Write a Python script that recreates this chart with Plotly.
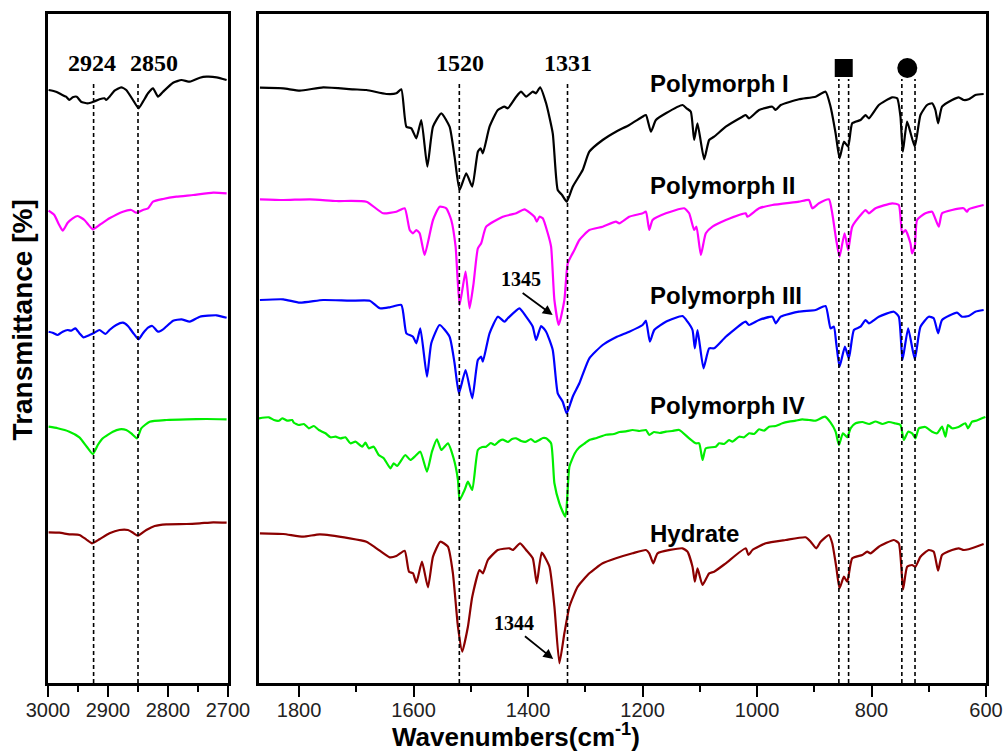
import plotly.graph_objects as go

# ---------------- data (wavenumber cm-1, transmittance in stacked arbitrary units) ----------------
# C-H stretching region (3000-2700)
I_ch = [(2999, 593), (2986.7, 591.3), (2978.3, 588.7), (2970, 586.3), (2964.4, 583), (2958.8, 585.7),
        (2952.1, 586.3), (2944.9, 581.3), (2933.7, 579.7), (2924.2, 581.3), (2914.2, 583.7), (2905.8, 584.7),
        (2903, 583), (2897.5, 586.3), (2889.1, 592.3), (2878, 595.7), (2869.6, 593), (2858.4, 583),
        (2849, 574.7), (2841.7, 581.3), (2833.3, 589.7), (2825, 594.7), (2816.6, 586.3), (2808.2, 591.3),
        (2791.5, 600.3), (2777.5, 603), (2763.6, 601.3), (2746.9, 605.3), (2735.7, 606.3), (2719, 605.7),
        (2702.3, 603)]
II_ch = [(2999, 472.3), (2989.5, 468), (2982.2, 459), (2975.5, 452.3), (2967.2, 460.3), (2958.8, 464.7),
         (2950.4, 467), (2939.3, 463), (2933.7, 459), (2925.3, 453.7), (2914.2, 458), (2897.5, 464.7),
         (2875.2, 471.3), (2861.2, 473), (2852.8, 470.3), (2841.7, 473), (2833.3, 474.7), (2825, 481.3),
         (2808.2, 484), (2785.9, 486.3), (2758, 488), (2724.6, 490.3), (2702.3, 489.7)]
III_ch = [(2999, 351.3), (2992.3, 350.3), (2983.9, 348), (2975.5, 351.3), (2967.2, 353), (2961.6, 352.3),
          (2954.3, 354.7), (2947.7, 349.7), (2941, 345.7), (2930.9, 348), (2922.6, 350.3), (2914.2, 353),
          (2904.2, 349), (2897.5, 353), (2886.3, 358), (2875.2, 360.3), (2866.8, 357), (2858.4, 350.3),
          (2849, 343.7), (2841.7, 349.7), (2833.3, 355.3), (2826.1, 357), (2816.6, 351.3), (2808.2, 353.7),
          (2791.5, 362.3), (2777.5, 363.7), (2763.6, 361.3), (2746.9, 366.3), (2719, 367.7), (2702.3, 365.3)]
IV_ch = [(2999, 256.3), (2983.9, 254.7), (2964.4, 251.3), (2947.7, 245.7), (2935.4, 236.3), (2925.3, 229),
         (2917, 238), (2908.6, 244.7), (2891.9, 251.3), (2880.7, 253.7), (2869.6, 253), (2861.2, 249.7),
         (2851.7, 244.7), (2844.5, 254.7), (2830.5, 261.3), (2802.7, 263), (2769.2, 263.7), (2735.7, 264),
         (2702.3, 263.7)]
H_ch = [(2999, 150.7), (2981.1, 150.3), (2964.4, 148.7), (2947.7, 148), (2936.5, 143.7), (2926.5, 139.7),
        (2914.2, 143.7), (2897.5, 149.7), (2880.7, 153), (2866.8, 153), (2858.4, 150.3), (2850.1, 147.3),
        (2836.1, 153), (2822.2, 157), (2802.7, 158.7), (2769.2, 159), (2746.9, 159.7), (2724.6, 160.7),
        (2702.3, 160.3)]

# Fingerprint region (1870-600)
I_fp = [(1868.3, 595.3), (1827.6, 594.7), (1798.5, 592.3), (1757.8, 595.7), (1705.5, 593.7), (1682.3, 593),
        (1647.4, 589), (1630, 589.7), (1621.3, 593.7), (1612.5, 556.3), (1603.8, 554.7), (1595.1, 544.7),
        (1586.4, 563), (1575.9, 516.3), (1566, 556.3), (1551.5, 569.7), (1537, 556.3), (1528.3, 526.3),
        (1519.5, 493), (1507.9, 509.7), (1497.4, 496.3), (1487.6, 531.3), (1482.9, 534.7), (1478.9, 529.7),
        (1467.2, 556.3), (1452.7, 573), (1441.1, 576.3), (1435.3, 574.7), (1420.7, 586.3), (1412, 591.3),
        (1403.3, 586.3), (1391.7, 591.3), (1385.9, 589.7), (1378.9, 595.7), (1368.4, 579.7), (1356.8, 549.7),
        (1348.1, 493), (1340.5, 488), (1332.4, 481.3), (1321.9, 496.3), (1304.5, 513), (1292.9, 531.3),
        (1269.6, 543), (1246.4, 551.3), (1223.1, 558), (1199.9, 566.3), (1194, 568), (1185.3, 551.3),
        (1176.6, 563), (1159.2, 569.7), (1130.1, 578), (1123.1, 574.7), (1115.6, 571.3), (1109.8, 543),
        (1104, 559.7), (1092.3, 523.7), (1083.6, 543), (1074.9, 546.3), (1054.5, 556.3), (1025.5, 566.3),
        (1019.7, 568), (1013.9, 564.7), (996.4, 573), (973.2, 576.3), (967.4, 573), (958.6, 578),
        (926.7, 583.7), (897.6, 586.3), (880.2, 591.3), (871.5, 576.3), (862.7, 549.7), (855.8, 524.7),
        (848.2, 541.3), (840.7, 536.3), (833.7, 559.7), (819.2, 563), (810.4, 568), (804.6, 564.7),
        (787.2, 578), (763.9, 585.7), (755.2, 584.7), (749.4, 566.3), (745.3, 531.3), (737.8, 561.3),
        (724.4, 536.3), (714.5, 568), (702.9, 578), (694.2, 579.7), (688.4, 573), (683.7, 559.7),
        (676.8, 576.3), (659.3, 583), (647.7, 585.7), (639, 583), (630.3, 583.7), (618.6, 588), (604.1, 589)]
II_fp = [(1868.3, 483.7), (1827.6, 483), (1781.1, 483.7), (1734.6, 482), (1682.3, 481.3), (1653.2, 469.7),
         (1630, 471.3), (1615.4, 474.7), (1606.7, 453), (1600.9, 449.7), (1595.1, 453), (1589.3, 449.7),
         (1580.6, 428), (1566, 463), (1554.4, 476.3), (1542.8, 474.7), (1534.1, 463), (1526.5, 436.3),
         (1519.5, 378), (1509.1, 411.3), (1502.1, 374.7), (1495.1, 399.7), (1487.6, 434.7), (1481.8, 439.7),
         (1473.1, 456.3), (1444, 466.3), (1420.7, 469.7), (1406.2, 473.7), (1388.8, 466.3), (1384.7, 461.3),
         (1380.1, 466.3), (1374.2, 464.7), (1365.5, 449.7), (1359.7, 436.3), (1353.9, 383), (1346.3, 358),
         (1336.5, 383), (1330.6, 419.7), (1319, 433), (1310.3, 443), (1292.9, 453), (1269.6, 456.3),
         (1246.4, 461.3), (1240.6, 459.7), (1223.1, 466.3), (1199.9, 469.7), (1194, 471.3), (1188.2, 453),
         (1182.4, 463), (1159.2, 469.7), (1127.2, 474.7), (1118.5, 469.7), (1109.8, 453), (1105.7, 456.3),
         (1098.1, 428), (1089.4, 449.7), (1077.8, 456.3), (1054.5, 463), (1019.7, 469.7), (1016.8, 466.3),
         (996.4, 474.7), (973.2, 478), (926.7, 481.3), (909.3, 483), (903.4, 474.7), (891.8, 479.7),
         (874.4, 483.7), (868.6, 469.7), (861.6, 443), (855.8, 426.3), (847.1, 449.7), (840.7, 433),
         (833.7, 456.3), (816.3, 469.7), (810.4, 473), (804.6, 469.7), (793, 474.7), (763.9, 479.7),
         (752.3, 478), (746.5, 449.7), (740.7, 453), (732, 439.7), (729.1, 429.7), (724.4, 436.3),
         (720.4, 463), (705.8, 469.7), (694.2, 471.3), (682.6, 456.3), (676.8, 469.7), (659.3, 473),
         (639, 474.7), (633.2, 471.3), (630.3, 473.7), (604.1, 478)]
III_fp = [(1868.3, 383), (1827.6, 383.7), (1798.5, 380.3), (1757.8, 383), (1711.3, 382.3), (1676.5, 382.3),
          (1659, 374.7), (1641.6, 375.7), (1621.3, 378), (1612.5, 349.7), (1600.9, 346.3), (1595.1, 339.7),
          (1588.1, 354.7), (1576.5, 306.3), (1569, 339.7), (1554.4, 358), (1537, 346.3), (1528.3, 319.7),
          (1520.7, 289.7), (1509.1, 313), (1497.4, 284.7), (1487.6, 323), (1481.8, 326.3), (1478.9, 321.3),
          (1467.2, 349.7), (1452.7, 366.3), (1441.1, 361.3), (1435.3, 364.7), (1414.9, 374.7), (1403.3, 366.3),
          (1391.7, 356.3), (1385.9, 343), (1377.1, 357), (1368.4, 351.3), (1356.8, 333), (1348.1, 289.7),
          (1339.4, 281.3), (1332.4, 269.7), (1321.9, 286.3), (1310.3, 299.7), (1292.9, 324.7), (1269.6, 338),
          (1246.4, 345.7), (1223.1, 351.3), (1199.9, 358), (1194, 362.3), (1187.1, 341.3), (1179.5, 353),
          (1159.2, 361.3), (1130.1, 367), (1121.4, 361.3), (1112.7, 353), (1108.6, 334.7), (1103.9, 353),
          (1093.5, 314.7), (1083.6, 334.7), (1074.9, 334.7), (1054.5, 346.3), (1025.5, 359.7), (1019.7, 361.3),
          (1013.9, 358), (996.4, 363), (973.2, 366.3), (967.4, 359.7), (958.6, 366.3), (926.7, 371.3),
          (897.6, 373), (880.2, 377), (871.5, 354.7), (865.7, 356.3), (861.6, 339.7), (855.8, 316.3),
          (846.5, 336.3), (839.5, 324.7), (830.8, 353), (819.2, 356.3), (810.4, 363), (804.6, 359.7),
          (787.2, 366.3), (761, 371.3), (752.3, 366.3), (745.9, 323), (736, 354.7), (724.4, 323.7),
          (714.5, 356.3), (700, 366.3), (691.3, 364.7), (683.7, 349.7), (676.8, 363), (650.6, 370.3),
          (641.9, 366.3), (630.3, 367), (618.6, 371.3), (604.1, 373)]
IV_fp = [(1870, 264.7), (1852.6, 265.7), (1843.8, 263), (1835.1, 262.3), (1829.3, 264.7), (1820.6, 262.3),
         (1811.9, 263), (1809, 260.3), (1800.3, 258), (1791.5, 259), (1782.8, 254.7), (1774.1, 257),
         (1765.4, 253), (1753.8, 249.7), (1745, 245.7), (1736.3, 246.3), (1727.6, 244.7), (1718.9, 245.7),
         (1710.2, 239.7), (1701.4, 241.3), (1689.8, 236.3), (1684, 240.3), (1678.2, 234.7), (1669.5, 236.3),
         (1660.8, 228), (1652, 224.7), (1640.4, 214.7), (1634.6, 219.7), (1628.8, 217), (1614.3, 228),
         (1605.5, 223), (1596.8, 227), (1588.1, 231.3), (1576.5, 211.3), (1567.8, 231.3), (1559.1, 243.7),
         (1551.5, 233), (1539.9, 239.7), (1530, 224.7), (1522.4, 203), (1519.5, 183), (1510.8, 193),
         (1505, 201.3), (1497.4, 193), (1487.6, 233), (1480, 236), (1473.1, 236.3), (1465, 240), (1458, 238),
         (1450, 242), (1444, 243.3), (1435, 241), (1428, 244), (1420.7, 244.7), (1412, 242), (1403.3, 241.3),
         (1395, 244), (1388, 241), (1380.1, 243), (1374, 245), (1368.4, 244.7), (1359.7, 239.7),
         (1353.9, 199.7), (1345.2, 179.7), (1334.7, 166.3), (1327.7, 216.3), (1318, 230), (1310.3, 235.7),
         (1300, 240), (1292.9, 243), (1280, 245), (1263.8, 248.3), (1250, 249), (1240, 251), (1228.9, 251.7),
         (1217.3, 253), (1205, 252), (1194, 253), (1188.2, 248), (1180, 251), (1170, 250), (1159.2, 251.3),
         (1148, 252), (1135.9, 253), (1118.5, 244.7), (1106.9, 239.7), (1101, 239.7), (1095.2, 223),
         (1089.4, 234.7), (1071.9, 236.3), (1066.1, 239.7), (1057.4, 239), (1048.7, 243), (1042.9, 241.3),
         (1031.3, 246.3), (1022.5, 245.7), (1013.8, 249.7), (1005.1, 249), (996.4, 253.7), (987.7, 252.3),
         (979, 256.3), (967.3, 257), (955.7, 259.7), (944.1, 261.3), (932.5, 262.3), (921, 263.7),
         (909.2, 263), (897.6, 262.3), (881.3, 266.3), (871.4, 260.3), (862.7, 251.3), (856.9, 238),
         (849.9, 249.7), (842.4, 245.7), (836.6, 254.7), (827.8, 259.7), (816, 261), (804, 259),
         (793, 261.5), (781, 259), (770, 261), (758, 259.5), (749.4, 258), (743.6, 243), (736, 251.3),
         (729, 249.7), (723.2, 244.7), (717.4, 254.7), (706, 256), (694.2, 251.3), (685.4, 249.7),
         (676.7, 256.3), (670.9, 246.3), (666.3, 258), (659.3, 254.7), (648, 256), (636, 259.7),
         (631.4, 254.7), (624.4, 261.3), (616, 262.5), (607, 264.7), (601, 266)]
H_fp = [(1868.3, 149.7), (1827.6, 149), (1792.7, 146.3), (1763.6, 148.7), (1711.3, 144.7), (1682.3, 141.3),
        (1664.8, 134.7), (1641.6, 125.7), (1630, 127), (1615.4, 132.3), (1607.9, 111.3), (1600.9, 109.7),
        (1595.1, 100.3), (1585.2, 121.3), (1574.8, 95.7), (1566, 126.3), (1553.2, 141.3), (1539.9, 136.3),
        (1531.2, 109.7), (1522.4, 56.3), (1514.9, 31.3), (1505, 56.3), (1497.4, 86.3), (1484.7, 113),
        (1478.9, 109.7), (1470.1, 123), (1452.7, 133), (1432.4, 134.7), (1426.6, 133), (1413.8, 139.7),
        (1403.3, 133), (1391.7, 124.7), (1384.7, 99.7), (1376, 130.3), (1362.6, 116.3), (1353.9, 76.3),
        (1345.2, 19.7), (1336.5, 49.7), (1327.7, 76.3), (1313.2, 96.3), (1292.9, 109.7), (1269.6, 119.7),
        (1246.4, 124.7), (1217.3, 129.7), (1194.1, 133), (1188.2, 129.7), (1181.2, 119.7), (1173.7, 129.7),
        (1130.1, 134.7), (1121.4, 131.3), (1112.7, 116.3), (1108.6, 101.3), (1103.9, 114.7), (1095.2, 98),
        (1083.6, 109.7), (1074.9, 111.3), (1054.5, 119.7), (1019.7, 134.7), (1015, 128), (1008, 133),
        (984.8, 139.7), (950, 143), (915.1, 145.7), (906.3, 141.3), (896.5, 134.7), (888.9, 141.3),
        (874.4, 148), (868.6, 139.7), (861.6, 116.3), (855.8, 94.7), (848.2, 106.3), (842.4, 101.3),
        (833.7, 124.7), (816.3, 128), (807.5, 131.3), (801.7, 129.7), (787.2, 136.3), (761, 143),
        (752.3, 139.7), (744.8, 93.7), (737.8, 116.3), (729.1, 118), (723.2, 116.3), (714.5, 126.3),
        (700, 133), (691.3, 131.3), (683.7, 112.3), (676.8, 128), (659.3, 133), (647.7, 134.7),
        (639, 133), (630.3, 133.7), (604.1, 139)]

series_names = ["Polymorph I", "Polymorph II", "Polymorph III", "Polymorph IV", "Hydrate"]
series_colors = ["#000000", "#FF00FF", "#0000FF", "#00EE00", "#8B0000"]
ch_data = [I_ch, II_ch, III_ch, IV_ch, H_ch]
fp_data = [I_fp, II_fp, III_fp, IV_fp, H_fp]
label_y = [600, 498, 388, 278, 150]

ch_lines = [2924, 2850]
ch_labels = [(2927, "2924"), (2823, "2850")]
fp_lines = [1520, 1331]
fp_labels = [(1518, "1520"), (1331, "1331")]
square_lines = [857, 840]
circle_lines = [747, 724]

fig = go.Figure()
for name, color, ch, fp in zip(series_names, series_colors, ch_data, fp_data):
    fig.add_trace(go.Scatter(x=[p[0] for p in ch], y=[p[1] for p in ch], xaxis="x", yaxis="y",
                             mode="lines", line=dict(color=color, width=2.2, shape="spline", smoothing=0.5),
                             showlegend=False, hoverinfo="skip", name=name))
    fig.add_trace(go.Scatter(x=[p[0] for p in fp], y=[p[1] for p in fp], xaxis="x2", yaxis="y2",
                             mode="lines", line=dict(color=color, width=2.2, shape="spline", smoothing=0.5),
                             showlegend=False, hoverinfo="skip", name=name))

# band markers
fig.add_trace(go.Scatter(x=[sum(square_lines) / 2], y=[615], xaxis="x2", yaxis="y2", mode="markers",
                         marker=dict(symbol="square", size=18, color="black"), showlegend=False, hoverinfo="skip"))
fig.add_trace(go.Scatter(x=[sum(circle_lines) / 2 + 2], y=[615], xaxis="x2", yaxis="y2", mode="markers",
                         marker=dict(symbol="circle", size=20, color="black"), showlegend=False, hoverinfo="skip"))

dash = "4px,3px"
shapes = []
for w in ch_lines:
    shapes.append(dict(type="line", xref="x", yref="y", x0=w, x1=w, y0=0, y1=601,
                       line=dict(color="black", width=1.6, dash=dash)))
for w in fp_lines:
    shapes.append(dict(type="line", xref="x2", yref="y2", x0=w, x1=w, y0=0, y1=601,
                       line=dict(color="black", width=1.6, dash=dash)))
for w in square_lines + circle_lines:
    shapes.append(dict(type="line", xref="x2", yref="y2", x0=w, x1=w, y0=0, y1=604,
                       line=dict(color="black", width=1.6, dash=dash)))

serif = "Liberation Serif, Times New Roman, serif"
sans = "Liberation Sans, Arial, sans-serif"
ann = []
for x, t in ch_labels:
    ann.append(dict(x=x, y=620, xref="x", yref="y", text="<b>%s</b>" % t, showarrow=False,
                    font=dict(family=serif, size=24, color="black")))
for x, t in fp_labels:
    ann.append(dict(x=x, y=620, xref="x2", yref="y2", text="<b>%s</b>" % t, showarrow=False,
                    font=dict(family=serif, size=24, color="black")))
for name, yy in zip(series_names, label_y):
    ann.append(dict(x=1190, y=yy, xref="x2", yref="y2", text="<b>%s</b>" % name, showarrow=False,
                    xanchor="left", font=dict(family=sans, size=24, color="black")))
# arrow annotations
ann.append(dict(x=1412, y=404, xref="x2", yref="y2", text="<b>1345</b>", showarrow=False,
                font=dict(family=serif, size=20, color="black")))
ann.append(dict(x=1357, y=368, ax=1412, ay=391, xref="x2", yref="y2", axref="x2", ayref="y2", text="",
                showarrow=True, arrowhead=2, arrowsize=1.1, arrowwidth=1.8, arrowcolor="black"))
ann.append(dict(x=1424, y=60, xref="x2", yref="y2", text="<b>1344</b>", showarrow=False,
                font=dict(family=serif, size=20, color="black")))
ann.append(dict(x=1356, y=24, ax=1408, ay=48, xref="x2", yref="y2", axref="x2", ayref="y2", text="",
                showarrow=True, arrowhead=2, arrowsize=1.1, arrowwidth=1.8, arrowcolor="black"))
# axis titles
ann.append(dict(x=0.499, y=-0.078, xref="paper", yref="paper", xanchor="center", yanchor="middle",
                text="<b>Wavenumbers(cm<sup>-1</sup>)</b>",
                showarrow=False, font=dict(family=sans, size=26, color="black")))
ann.append(dict(x=-0.027, y=0.543, xref="paper", yref="paper", xanchor="center", yanchor="middle",
                text="<b>Transmittance [%]</b>",
                showarrow=False, textangle=-90, font=dict(family=sans, size=28, color="black")))

tickfont = dict(family=sans, size=20, color="#222222")
frame = dict(showline=True, linewidth=2.5, linecolor="black", mirror=True, showgrid=False, zeroline=False,
             automargin=False)
fig.update_layout(
    width=1006, height=751, margin=dict(l=48, r=20, t=14, b=68, autoexpand=False),
    plot_bgcolor="white", paper_bgcolor="white", showlegend=False,
    xaxis=dict(domain=[0, 0.1919], range=[3000, 2700], tickvals=[3000, 2900, 2800, 2700],
               ticks="outside", ticklen=11, tickwidth=2, tickcolor="black", tickfont=tickfont,
               ticklabelstandoff=-4,
               minor=dict(tickvals=[2950, 2850, 2750], ticks="outside", ticklen=6, tickwidth=2, tickcolor="black"),
               anchor="y", **frame),
    xaxis2=dict(domain=[0.2249, 1], range=[1870, 600], tickvals=[1800, 1600, 1400, 1200, 1000, 800, 600],
                ticks="outside", ticklen=11, tickwidth=2, tickcolor="black", tickfont=tickfont,
                ticklabelstandoff=-4,
                minor=dict(tickvals=[1700, 1500, 1300, 1100, 900, 700], ticks="outside", ticklen=6,
                           tickwidth=2, tickcolor="black"),
                anchor="y2", **frame),
    yaxis=dict(range=[0, 669], showticklabels=False, ticks="", anchor="x", **frame),
    yaxis2=dict(range=[0, 669], showticklabels=False, ticks="", anchor="x2", **frame),
    shapes=shapes, annotations=ann,
)

fig.write_html("out.html")
